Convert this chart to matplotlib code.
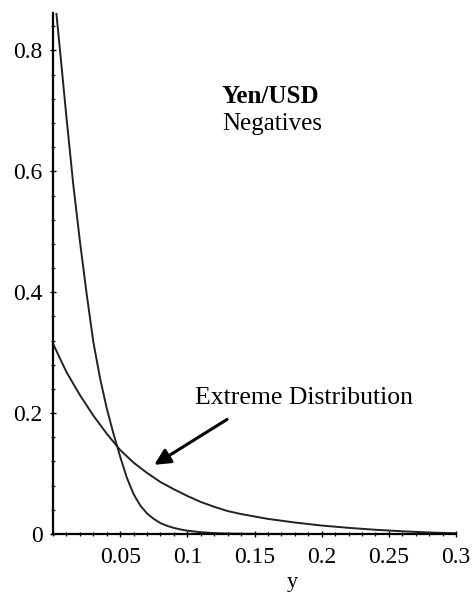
import matplotlib
matplotlib.use("Agg")
import matplotlib.pyplot as plt
from matplotlib.ticker import MultipleLocator, FixedLocator

plt.rcParams['font.family'] = ['Liberation Serif', 'DejaVu Serif']

# Steep (empirical) density curve
c1_x = [0.0025, 0.005, 0.010, 0.015, 0.020, 0.025, 0.030, 0.035, 0.040, 0.045,
        0.050, 0.055, 0.060, 0.065, 0.070, 0.075, 0.080, 0.085, 0.090, 0.095,
        0.100, 0.110, 0.120, 0.130, 0.150, 0.200, 0.300]
c1_y = [0.862, 0.805, 0.690, 0.580, 0.485, 0.398, 0.318, 0.258, 0.208, 0.166,
        0.128, 0.093, 0.066, 0.047, 0.034, 0.025, 0.018, 0.0135, 0.0100, 0.0075,
        0.0055, 0.0030, 0.0015, 0.0007, 0.0002, 0.0, 0.0]

# Extreme distribution curve
c2_x = [0.0, 0.01, 0.02, 0.03, 0.04, 0.05, 0.06, 0.07, 0.08, 0.09, 0.10, 0.11,
        0.12, 0.13, 0.14, 0.15, 0.16, 0.18, 0.20, 0.22, 0.24, 0.26, 0.28, 0.30]
c2_y = [0.315, 0.268, 0.230, 0.196, 0.166, 0.139, 0.118, 0.101, 0.086, 0.074,
        0.063, 0.053, 0.045, 0.038, 0.033, 0.029, 0.025, 0.019, 0.014, 0.0102,
        0.0070, 0.0045, 0.0025, 0.0012]

x_ticks = [0.05, 0.1, 0.15, 0.2, 0.25, 0.3]
x_tick_labels = ["0.05", "0.1", "0.15", "0.2", "0.25", "0.3"]
y_ticks = [0, 0.2, 0.4, 0.6, 0.8]
y_tick_labels = ["0", "0.2", "0.4", "0.6", "0.8"]

fig = plt.figure(figsize=(4.76, 5.97), dpi=100)
ax = fig.add_axes([53/476, 1-534/597, (456-53)/476, (534-13)/597])

ax.plot(c1_x, c1_y, color='#222222', lw=1.4, solid_capstyle='round', solid_joinstyle='round')
ax.plot(c2_x, c2_y, color='#222222', lw=1.4, solid_capstyle='round', solid_joinstyle='round')

ax.set_xlim(0, 0.3)
ax.set_ylim(0, 0.862)

for s in ['top', 'right']:
    ax.spines[s].set_visible(False)
for s in ['left', 'bottom']:
    ax.spines[s].set_linewidth(1.6)
    ax.spines[s].set_color('black')

ax.xaxis.set_major_locator(FixedLocator(x_ticks))
ax.set_xticklabels(x_tick_labels)
ax.yaxis.set_major_locator(FixedLocator(y_ticks))
ax.set_yticklabels(y_tick_labels)
ax.xaxis.set_minor_locator(MultipleLocator(0.01))
ax.yaxis.set_minor_locator(MultipleLocator(0.04))

ax.tick_params(axis='both', which='major', direction='inout', length=5, width=1.0,
               labelsize=17, color='black')
ax.tick_params(axis='both', which='minor', direction='inout', length=3, width=0.9,
               color='black')
ax.tick_params(axis='x', which='major', pad=7)
ax.tick_params(axis='y', which='major', pad=5)

ax.set_xlabel('y', fontsize=16, va='center')
ax.xaxis.set_label_coords((292 - 53) / 403, -(582 - 534) / 521)

ax.text(0.1257, 0.713, 'Yen/USD', fontsize=18, fontweight='bold', ha='left', va='baseline')
ax.text(0.1257, 0.668, 'Negatives', fontsize=18, ha='left', va='baseline')
ax.text(0.187, 0.215, 'Extreme Distribution', fontsize=18.5, ha='center', va='baseline')

ax.annotate('', xy=(0.0754, 0.1145), xytext=(0.1296, 0.1896),
            arrowprops=dict(arrowstyle='-|>', color='black', lw=2.2,
                            mutation_scale=24, shrinkA=0, shrinkB=0))

fig.savefig('out.png', dpi=100)
